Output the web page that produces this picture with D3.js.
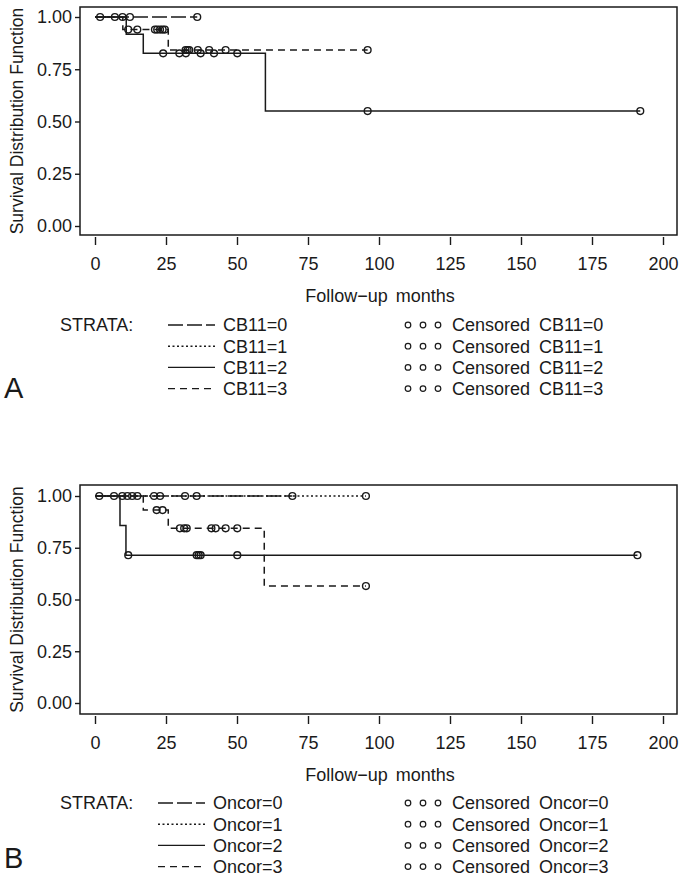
<!DOCTYPE html>
<html><head><meta charset="utf-8">
<script src="https://cdn.jsdelivr.net/npm/d3@7"></script>
<style>
html,body{margin:0;padding:0;background:#fff;}
svg{display:block;}
text{font-family:"Liberation Sans",Arial,Helvetica,sans-serif;fill:#1a1a1a;}
</style></head>
<body>
<script>
// ---------- shared axis data ----------
const xTicks = [0, 25, 50, 75, 100, 125, 150, 175, 200];
const yTicks = [0, 0.25, 0.5, 0.75, 1.0];
const yTickLabels = ["0.00", "0.25", "0.50", "0.75", "1.00"];
const xTitle = "Follow\u2212up months";
const yTitle = "Survival Distribution Function";

// ---------- panel A : CB11 ----------
const cb11Labels = ["CB11=0", "CB11=1", "CB11=2", "CB11=3"];
const cb11_0_times = [0, 36];
const cb11_0_surv = [1.0, 1.0];
const cb11_0_cens = [12.3, 36];
const cb11_1_times = [0, 7];
const cb11_1_surv = [1.0, 1.0];
const cb11_1_cens = [1.8, 7];
const cb11_2_times = [0, 11, 17, 60, 192];
const cb11_2_surv = [1.0, 0.917, 0.826, 0.55, 0.55];
const cb11_2_cens = [24, 29.7, 32, 37.2, 41.9, 50.1, 96, 192];
const cb11_3_times = [0, 9.8, 25.8, 96];
const cb11_3_surv = [1.0, 0.94, 0.842, 0.842];
const cb11_3_cens = [9.7, 11.7, 14.9, 21.1, 21.9, 22.9, 23.8, 24.6, 31.9, 32.6, 33.2, 36.2, 40.2, 46, 96];

// ---------- panel B : Oncor ----------
const oncorLabels = ["Oncor=0", "Oncor=1", "Oncor=2", "Oncor=3"];
const oncor_0_times = [0, 69.5];
const oncor_0_surv = [1.0, 1.0];
const oncor_0_cens = [1.5, 6.7, 20.8, 22.9, 31.7, 69.5];
const oncor_1_times = [0, 95.4];
const oncor_1_surv = [1.0, 1.0];
const oncor_1_cens = [9.6, 11.4, 13.1, 14.9, 35.8, 95.4];
const oncor_2_times = [0, 8.8, 10.9, 191];
const oncor_2_surv = [1.0, 0.857, 0.714, 0.714];
const oncor_2_cens = [11.7, 35.8, 36.5, 37.2, 50.1, 191];
const oncor_3_times = [0, 17, 25.8, 59.6, 95.4];
const oncor_3_surv = [1.0, 0.932, 0.844, 0.565, 0.565];
const oncor_3_cens = [21.7, 23.8, 29.9, 31.4, 32.3, 41, 42.5, 46, 50.1, 95.4];

// line styles per stratum index (0 long dash, 1 dotted, 2 solid, 3 dashed)
const dashes = ["15,4", "2,2.5", null, "7,5"];

const W = 685, H = 876;
const FS = "18px";
const svg = d3.select("body").append("svg").attr("width", W).attr("height", H);

function survAt(times, surv, t) {
  let s = surv[0];
  for (let i = 0; i < times.length; i++) if (times[i] <= t) s = surv[i];
  return s;
}

function drawPanel(p) {
  const g = svg.append("g");
  const x = d3.scaleLinear().domain([0, 200]).range([95, 663]);
  const y = d3.scaleLinear().domain([0, 1]).range([p.y0, p.y1]);

  // frame
  g.append("rect").attr("x", 80).attr("y", p.top).attr("width", 597).attr("height", p.bottom - p.top)
    .attr("fill", "none").attr("stroke", "#1a1a1a").attr("stroke-width", 1.5);

  // y axis
  const ya = g.append("g").attr("transform", "translate(80,0)")
    .call(d3.axisLeft(y).tickValues(yTicks).tickFormat((d, i) => yTickLabels[i]).tickSize(5).tickPadding(3));
  ya.select(".domain").remove();
  ya.selectAll("text").style("font-size", FS).attr("font-family", null);
  ya.selectAll("line").attr("stroke", "#1a1a1a").attr("stroke-width", 1.4);

  // x axis (offset below frame)
  const xa = g.append("g").attr("transform", `translate(0,${p.bottom + 2})`)
    .call(d3.axisBottom(x).tickValues(xTicks).tickFormat(d3.format("d")).tickSize(8).tickPadding(12));
  xa.select(".domain").remove();
  xa.selectAll("text").style("font-size", FS).attr("font-family", null);
  xa.selectAll("line").attr("stroke", "#1a1a1a").attr("stroke-width", 1.4);

  // titles
  g.append("text").attr("x", 380).attr("y", p.bottom + 67).attr("text-anchor", "middle")
    .style("font-size", FS).style("word-spacing", "3px").text(xTitle);
  g.append("text").attr("transform", `translate(23,${(p.top + p.bottom) / 2}) rotate(-90)`)
    .attr("text-anchor", "middle").style("font-size", "17.5px").text(yTitle);

  // curves
  const line = d3.line().x(d => x(d[0])).y(d => y(d[1])).curve(d3.curveStepAfter);
  p.series.forEach((s, i) => {
    const pts = s.times.map((t, j) => [t, s.surv[j]]);
    g.append("path").attr("d", line(pts)).attr("fill", "none").attr("stroke", "#1a1a1a")
      .attr("stroke-width", 1.5).attr("stroke-dasharray", dashes[i]);
  });
  p.series.forEach((s, i) => {
    g.selectAll(null).data(s.cens).enter().append("circle")
      .attr("cx", d => x(d)).attr("cy", d => y(survAt(s.times, s.surv, d)))
      .attr("r", 3.4).attr("fill", "none").attr("stroke", "#1a1a1a").attr("stroke-width", 1.4);
  });

  // legend
  const lg = g.append("g");
  lg.append("text").attr("x", 60).attr("y", p.legY).attr("dy", "0.35em").style("font-size", FS).text("STRATA:");
  p.labels.forEach((lab, i) => {
    const yy = p.legY + i * 21.2;
    lg.append("line").attr("x1", p.sampleX0).attr("x2", p.sampleX0 + 47).attr("y1", yy).attr("y2", yy)
      .attr("stroke", "#1a1a1a").attr("stroke-width", 1.4).attr("stroke-dasharray", dashes[i]);
    lg.append("text").attr("x", p.sampleX0 + 55).attr("y", yy).attr("dy", "0.35em")
      .style("font-size", FS).text(lab);
    [408, 423, 438].forEach(cx => lg.append("circle").attr("cx", cx).attr("cy", yy).attr("r", 2.8)
      .attr("fill", "none").attr("stroke", "#1a1a1a").attr("stroke-width", 1.2));
    lg.append("text").attr("x", 452).attr("y", yy).attr("dy", "0.35em")
      .style("font-size", FS).style("word-spacing", "4px").text("Censored " + lab);
  });
  g.append("text").attr("x", 4).attr("y", p.letterY).style("font-size", "29px").text(p.letter);
}

drawPanel({
  top: 7, bottom: 235, y0: 226, y1: 17, legY: 325, sampleX0: 168, letter: "A", letterY: 398,
  labels: cb11Labels,
  series: [
    {times: cb11_0_times, surv: cb11_0_surv, cens: cb11_0_cens},
    {times: cb11_1_times, surv: cb11_1_surv, cens: cb11_1_cens},
    {times: cb11_2_times, surv: cb11_2_surv, cens: cb11_2_cens},
    {times: cb11_3_times, surv: cb11_3_surv, cens: cb11_3_cens}
  ]
});
drawPanel({
  top: 485, bottom: 714, y0: 703, y1: 496, legY: 803, sampleX0: 158, letter: "B", letterY: 868,
  labels: oncorLabels,
  series: [
    {times: oncor_0_times, surv: oncor_0_surv, cens: oncor_0_cens},
    {times: oncor_1_times, surv: oncor_1_surv, cens: oncor_1_cens},
    {times: oncor_2_times, surv: oncor_2_surv, cens: oncor_2_cens},
    {times: oncor_3_times, surv: oncor_3_surv, cens: oncor_3_cens}
  ]
});
</script>
</body></html>
